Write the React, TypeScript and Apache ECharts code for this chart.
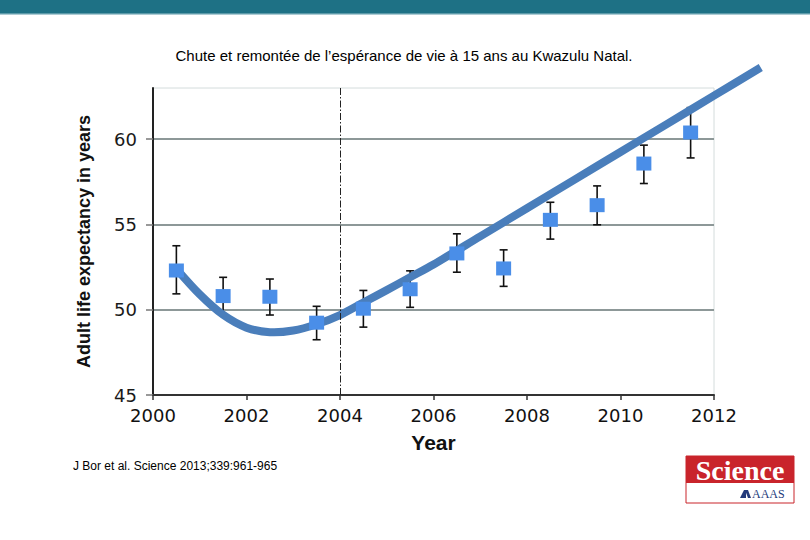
import React, { useEffect, useRef } from "react";
import * as echarts from "echarts";

const title = "Chute et remontée de l’espérance de vie à 15 ans au Kwazulu Natal.";
const citation = "J Bor et al. Science 2013;339:961-965";
const yAxisName = "Adult life expectancy in years";
const xAxisName = "Year";
const yTickValues = [45, 50, 55, 60];

const years = [2000.5, 2001.5, 2002.5, 2003.5, 2004.5, 2005.5, 2006.5, 2007.5, 2008.5, 2009.5, 2010.5, 2011.5];
const means = [52.3, 50.8, 50.76, 49.24, 50.06, 51.2, 53.3, 52.42, 55.27, 56.13, 58.57, 60.39];
const upper = [53.75, 51.9, 51.8, 50.2, 51.13, 52.28, 54.45, 53.51, 56.3, 57.26, 59.65, 61.85];
const lower = [50.93, 49.73, 49.69, 48.24, 48.98, 50.14, 52.2, 51.37, 54.14, 54.98, 57.4, 58.9];

const fitYears = [2000.5, 2001, 2001.5, 2002, 2002.5, 2003, 2003.5, 2004, 2004.5, 2005, 2005.5, 2006, 2007, 2008, 2009, 2010, 2011, 2012, 2013];
const fitValues = [52.4, 50.9, 49.7, 48.95, 48.68, 48.78, 49.15, 49.69, 50.42, 51.15, 51.9, 52.65, 54.3, 55.95, 57.6, 59.25, 60.9, 62.55, 64.2];

const interventionYear = 2004;

export default function App() {
  const ref = useRef<HTMLDivElement>(null);
  useEffect(() => {
    if (!ref.current) return;
    const chart = echarts.init(ref.current, null, { renderer: "svg" });
    const points = years.map((y, i) => [y, means[i]]);
    const bars = years.map((y, i) => [y, lower[i], upper[i]]);
    const fit = fitYears.map((y, i) => [y, fitValues[i]]);
    chart.setOption({
      animation: false,
      backgroundColor: "#ffffff",
      grid: { left: 153, right: 96, top: 88, bottom: 145, show: true, borderColor: "#d4dcdc", borderWidth: 1 },
      xAxis: {
        type: "value",
        min: 2000,
        max: 2012,
        interval: 2,
        name: xAxisName,
        nameLocation: "middle",
        nameGap: 37,
        nameTextStyle: { fontFamily: "Liberation Sans", fontWeight: "bold", fontSize: 21, color: "#111" },
        axisLine: { lineStyle: { color: "#333", width: 2 } },
        axisTick: { show: true, length: 5, lineStyle: { color: "#333", width: 1.5 } },
        axisLabel: { margin: 11, fontFamily: "DejaVu Sans", fontSize: 18, color: "#111", formatter: (v: number) => String(v) },
        splitLine: { show: false },
      },
      yAxis: {
        type: "value",
        min: 45,
        max: 63,
        interval: 5,
        name: yAxisName,
        nameLocation: "middle",
        nameGap: 60,
        nameTextStyle: { fontFamily: "Liberation Sans", fontWeight: "bold", fontSize: 18, color: "#111" },
        axisLine: { show: true, lineStyle: { color: "#222", width: 2 } },
        axisTick: { show: true, length: 7, customValues: yTickValues, lineStyle: { color: "#777", width: 1.5 } },
        axisLabel: { margin: 16, customValues: yTickValues, fontFamily: "DejaVu Sans", fontSize: 18, color: "#1a1a1a" },
        splitLine: { show: true, lineStyle: { color: ["#8d9898", "#8d9898", "#8d9898", "#8d9898", "#d4dcdc"], width: 2 } },
      },
      series: [
        {
          type: "custom",
          name: "error",
          data: bars,
          encode: { x: 0, y: [1, 2] },
          z: 2,
          renderItem: (params: any, api: any) => {
            const x = api.value(0);
            const lo = api.coord([x, api.value(1)]);
            const hi = api.coord([x, api.value(2)]);
            const w = 4;
            const st = { stroke: "#111", lineWidth: 1.6 };
            return {
              type: "group",
              children: [
                { type: "line", shape: { x1: hi[0], y1: hi[1], x2: lo[0], y2: lo[1] }, style: st },
                { type: "line", shape: { x1: hi[0] - w, y1: hi[1], x2: hi[0] + w, y2: hi[1] }, style: st },
                { type: "line", shape: { x1: lo[0] - w, y1: lo[1], x2: lo[0] + w, y2: lo[1] }, style: st },
              ],
            };
          },
          markLine: {
            silent: true,
            symbol: "none",
            label: { show: false },
            lineStyle: { color: "#222", width: 1, type: [7, 2, 1.5, 2] },
            data: [{ xAxis: interventionYear }],
          },
        },
        {
          type: "custom",
          name: "fit",
          data: fit,
          encode: { x: 0, y: 1 },
          clip: false,
          z: 3,
          renderItem: (params: any, api: any) => {
            if (params.dataIndex !== 0) return null;
            const pts = fit.map((p) => api.coord(p));
            return {
              type: "polyline",
              shape: { points: pts, smooth: 0.3 },
              style: { stroke: "#4a7ebb", lineWidth: 8, fill: "none", lineCap: "butt", lineJoin: "round" },
            };
          },
        },
        {
          type: "scatter",
          name: "mean",
          data: points,
          symbol: "rect",
          symbolSize: [15, 14],
          z: 4,
          itemStyle: { color: "#4a8ee8", opacity: 1 },
        },
      ],
      graphic: [
        { type: "rect", left: 0, top: 0, shape: { width: 810, height: 14 }, style: { fill: "#1e7185" } },
        { type: "rect", left: 0, top: 13, shape: { width: 810, height: 1.5 }, style: { fill: "#5d9aa9" } },
        {
          type: "text",
          x: 404,
          y: 55,
          style: { text: title, fontFamily: "Liberation Sans", fontSize: 15, fill: "#000", align: "center", verticalAlign: "middle" },
        },
        {
          type: "text",
          x: 73,
          y: 466,
          style: { text: citation, fontFamily: "Liberation Sans", fontSize: 12, fill: "#000", align: "left", verticalAlign: "middle" },
        },
        {
          type: "group",
          children: [
            { type: "rect", shape: { x: 686, y: 456, width: 108, height: 47 }, style: { fill: "#ffffff", stroke: "#c9242b", lineWidth: 1 } },
            { type: "rect", shape: { x: 686, y: 456, width: 108, height: 27 }, style: { fill: "#c9242b" } },
            {
              type: "text",
              x: 740,
              y: 470,
              style: { text: "Science", fontFamily: "Liberation Serif", fontWeight: "bold", fontSize: 28, fill: "#ffffff", align: "center", verticalAlign: "middle" },
            },
            { type: "polygon", shape: { points: [[740, 498], [744, 490], [746, 490], [746, 498]] }, style: { fill: "#233a7a" } },
            { type: "polygon", shape: { points: [[745, 490], [748, 490], [751, 498], [748, 498]] }, style: { fill: "#233a7a" } },
            {
              type: "text",
              x: 752,
              y: 494,
              style: { text: "AAAS", fontFamily: "Liberation Serif", fontSize: 12, fill: "#233a7a", align: "left", verticalAlign: "middle" },
            },
          ],
        },
      ],
    });
    return () => chart.dispose();
  }, []);
  return <div ref={ref} style={{ position: "absolute", left: 0, top: 0, width: 810, height: 540 }} />;
}
